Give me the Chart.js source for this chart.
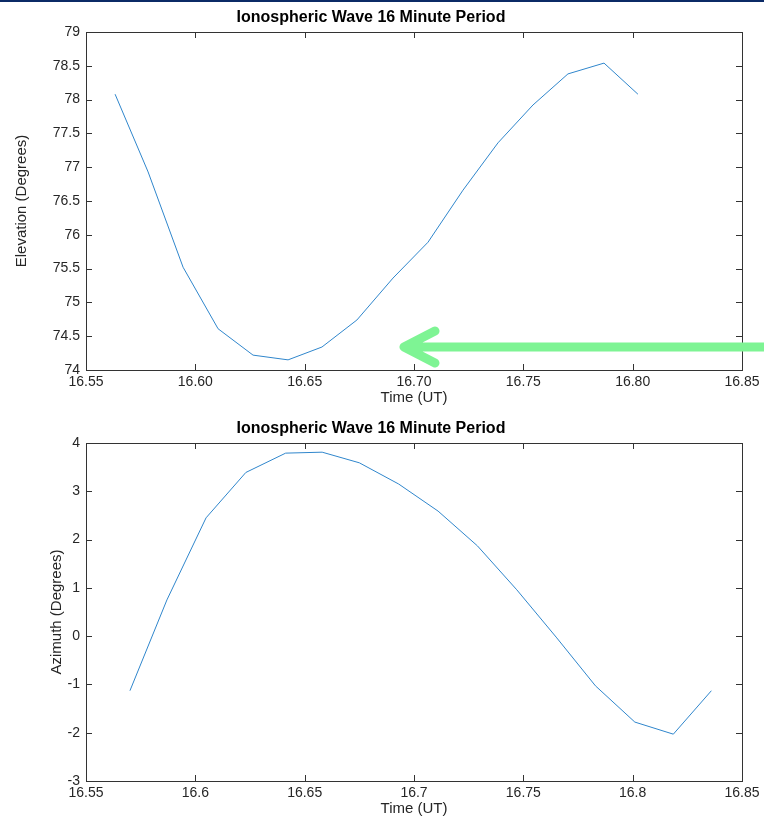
<!DOCTYPE html>
<html>
<head>
<meta charset="utf-8">
<script src="https://cdn.jsdelivr.net/npm/chart.js@4.4.0/dist/chart.umd.min.js"></script>
<style>
  html, body { margin: 0; padding: 0; background: #fff; }
  #bar { position: absolute; left: 0; top: 0; width: 764px; height: 2px; background: #0b2a66; z-index: 2; }
  .box { position: absolute; left: 0; width: 764px; }
</style>
</head>
<body>
<div id="bar"></div>
<div class="box" style="top:0;height:409px"><canvas id="elevChart" width="764" height="409"></canvas></div>
<div class="box" style="top:411px;height:407px"><canvas id="aziChart" width="764" height="407"></canvas></div>
<script>
const chartTitle = "Ionospheric Wave 16 Minute Period";

// elevation panel
const elevTime = [16.5633, 16.5784, 16.5944, 16.6104, 16.6264, 16.6424, 16.6579, 16.6739,
                  16.6904, 16.7064, 16.7224, 16.7384, 16.7544, 16.7704, 16.7869, 16.8024];
const elevDeg = [78.08, 76.93, 75.52, 74.61, 74.22, 74.15, 74.34, 74.74,
                 75.36, 75.89, 76.66, 77.36, 77.92, 78.38, 78.54, 78.08];

// azimuth panel
const aziTime = [16.5701, 16.5870, 16.6049, 16.6231, 16.6413, 16.6580, 16.6750, 16.6930,
                 16.7110, 16.7290, 16.7470, 16.7650, 16.7830, 16.8010, 16.8186, 16.8360];
const aziDeg = [-1.13, 0.75, 2.45, 3.39, 3.79, 3.81, 3.59, 3.15,
                2.59, 1.87, 0.96, -0.02, -1.03, -1.78, -2.03, -1.13];

// arrow annotation (data coords of the tip)
const arrowTip = { x: 16.6945, y: 74.34 };

const axisColor = '#333333';
const textColor = '#262626';
const lineColor = '#2f86cc';
const font = "'Liberation Sans', Helvetica, Arial, sans-serif";

const trimNum = v => String(Number(Number(v).toFixed(2)));

// matlab style box with inward ticks on all four sides
const boxPlugin = {
  id: 'matlabBox',
  afterDraw(chart) {
    const { ctx, chartArea: a, scales } = chart;
    const len = 6;
    ctx.save();
    ctx.strokeStyle = axisColor;
    ctx.lineWidth = 1;
    ctx.beginPath();
    scales.x.ticks.forEach(t => {
      const px = Math.round(scales.x.getPixelForValue(t.value)) + 0.5;
      ctx.moveTo(px, a.bottom); ctx.lineTo(px, a.bottom - len);
      ctx.moveTo(px, a.top); ctx.lineTo(px, a.top + len);
    });
    scales.y.ticks.forEach(t => {
      const py = Math.round(scales.y.getPixelForValue(t.value)) + 0.5;
      ctx.moveTo(a.left, py); ctx.lineTo(a.left + len, py);
      ctx.moveTo(a.right, py); ctx.lineTo(a.right - len, py);
    });
    ctx.stroke();
    ctx.strokeRect(Math.round(a.left) + 0.5, Math.round(a.top) + 0.5,
                   Math.round(a.right - a.left), Math.round(a.bottom - a.top));
    ctx.restore();
  }
};

const arrowPlugin = {
  id: 'greenArrow',
  afterDraw(chart) {
    if (!chart.options.plugins.greenArrow) return;
    const { ctx, scales } = chart;
    const tx = scales.x.getPixelForValue(arrowTip.x);
    const ty = scales.y.getPixelForValue(arrowTip.y);
    ctx.save();
    ctx.strokeStyle = 'rgb(126, 244, 148)';
    ctx.lineWidth = 9;
    ctx.lineCap = 'round';
    ctx.lineJoin = 'round';
    ctx.beginPath();
    ctx.moveTo(chart.width + 10, ty);
    ctx.lineTo(tx + 4, ty);
    ctx.moveTo(tx + 33, ty - 16);
    ctx.lineTo(tx + 2, ty);
    ctx.lineTo(tx + 33, ty + 16);
    ctx.stroke();
    ctx.restore();
  }
};

function makePanel(id, xs, ys, opts) {
  return new Chart(document.getElementById(id), {
    type: 'line',
    data: {
      datasets: [{
        data: xs.map((x, i) => ({ x: x, y: ys[i] })),
        borderColor: lineColor,
        borderWidth: 1,
        pointRadius: 0,
        tension: 0,
        fill: false
      }]
    },
    options: {
      responsive: false,
      animation: false,
      layout: { padding: { left: 0, right: 22, top: 0, bottom: 0 } },
      plugins: {
        legend: { display: false },
        tooltip: { enabled: false },
        greenArrow: opts.arrow,
        title: {
          display: true,
          text: chartTitle,
          color: '#000',
          font: { family: font, size: 16, weight: 'bold' },
          padding: { top: 8, bottom: 4.8 }
        }
      },
      scales: {
        x: {
          type: 'linear',
          min: 16.55, max: 16.85,
          afterFit: s => { s.height = opts.xHeight; },
          grid: { display: false, drawTicks: false },
          border: { display: false },
          ticks: {
            stepSize: 0.05,
            padding: 4,
            color: textColor,
            maxRotation: 0,
            font: { family: font, size: 14 },
            callback: opts.xFmt
          },
          title: {
            display: true, text: 'Time (UT)', color: textColor,
            font: { family: font, size: 15 },
            padding: { top: 0, bottom: opts.xTitlePad }
          }
        },
        y: {
          min: opts.yMin, max: opts.yMax,
          afterFit: s => { s.width = 86; },
          grid: { display: false, drawTicks: false },
          border: { display: false },
          ticks: {
            stepSize: opts.yStep,
            padding: 6,
            color: textColor,
            font: { family: font, size: 14 },
            callback: trimNum
          },
          title: {
            display: true, text: opts.yLabel, color: textColor,
            font: { family: font, size: 15 },
            padding: { top: opts.yTitlePad, bottom: 0 }
          }
        }
      }
    },
    plugins: [boxPlugin, arrowPlugin]
  });
}

makePanel('elevChart', elevTime, elevDeg, {
  yMin: 74, yMax: 79, yStep: 0.5, yLabel: 'Elevation (Degrees)', yTitlePad: 13,
  xHeight: 39, xTitlePad: 2, arrow: true,
  xFmt: v => Number(v).toFixed(2)
});

makePanel('aziChart', aziTime, aziDeg, {
  yMin: -3, yMax: 4, yStep: 1, yLabel: 'Azimuth (Degrees)', yTitlePad: 48,
  xHeight: 37, xTitlePad: 0, arrow: false,
  xFmt: trimNum
});
</script>
</body>
</html>
